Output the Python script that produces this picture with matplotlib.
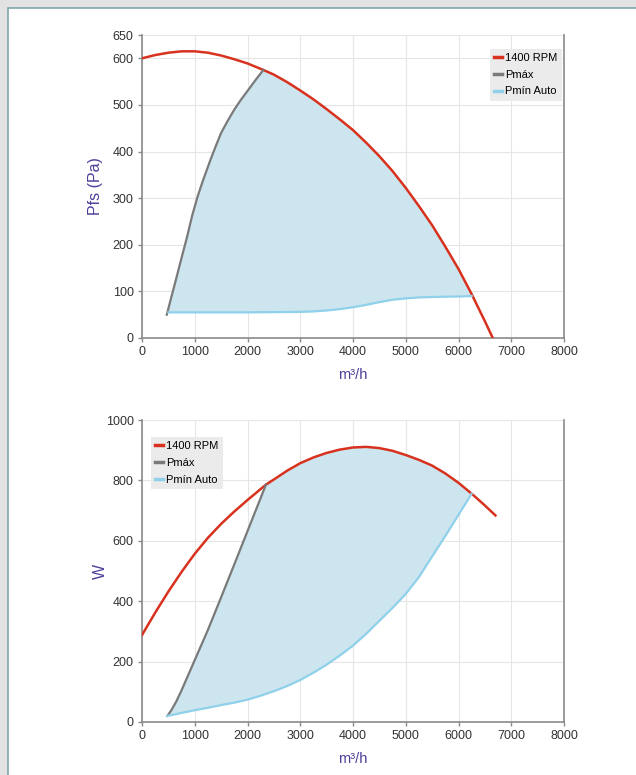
import numpy as np
import matplotlib
matplotlib.use("Agg")
import matplotlib.pyplot as plt
from matplotlib.patches import Rectangle

plt.rcParams['font.family'] = ['Liberation Sans', 'DejaVu Sans']

# Pressure chart (Pfs, Pa)
p_rpm_x = [0, 250, 500, 750, 1000, 1250, 1500, 1750, 2000, 2300, 2500, 2750, 3000, 3250, 3500, 3750,
           4000, 4250, 4500, 4750, 5000, 5250, 5500, 5750, 6000, 6250, 6500, 6650]
p_rpm_y = [600, 607, 612, 615, 615, 612, 606, 598, 589, 575, 565, 549, 531, 512, 491, 469,
           446, 419, 390, 358, 322, 283, 242, 196, 148, 94, 36, 0]
p_max_x = [470, 550, 650, 750, 850, 950, 1050, 1150, 1300, 1400, 1500, 1625, 1750, 1875, 2000, 2150, 2300]
p_max_y = [50, 85, 128, 172, 215, 262, 302, 336, 383, 412, 440, 466, 490, 511, 530, 553, 575]
p_min_x = [500, 1000, 2000, 3000, 3250, 3500, 3750, 4000, 4250, 4500, 4750, 5000, 5250, 5500, 6000, 6250]
p_min_y = [55, 55, 55, 56, 57, 59, 62, 66, 71, 77, 82, 85, 87, 88, 89, 90]

# Power chart (W)
w_rpm_x = [0, 250, 500, 750, 1000, 1250, 1500, 1750, 2000, 2350, 2500, 2750, 3000, 3250, 3500, 3750,
           4000, 4250, 4500, 4750, 5000, 5250, 5500, 5750, 6000, 6250, 6500, 6700]
w_rpm_y = [288, 362, 432, 497, 557, 610, 656, 697, 735, 786, 803, 832, 857, 876, 891, 902,
           909, 911, 907, 898, 884, 868, 849, 823, 792, 756, 717, 684]
w_max_x = [480, 560, 650, 750, 850, 1000, 1250, 1500, 1750, 2000, 2350]
w_max_y = [20, 40, 68, 105, 145, 205, 305, 413, 522, 632, 786]
w_min_x = [480, 750, 1000, 1250, 1500, 1750, 2000, 2250, 2500, 2750, 3000, 3250, 3500, 3750,
           4000, 4250, 4500, 4750, 5000, 5250, 5500, 5750, 6000, 6250]
w_min_y = [20, 30, 39, 47, 56, 64, 74, 87, 102, 119, 139, 163, 190, 220,
           253, 292, 335, 378, 424, 480, 548, 616, 686, 756]

labels = ['1400 RPM', 'Pmáx', 'Pmín Auto']
red = '#d8321f'
grey = '#7a7a7a'
blue = '#8fd0ea'
fill_col = '#cde5ee'
purple = '#4b3f9a'

fig = plt.figure(figsize=(6.36, 7.75), dpi=100)
fig.patch.set_facecolor('#e2e2e2')
fig.patches.append(Rectangle((8 / 636, -0.01), 1.0, (775 - 8) / 775 + 0.01, transform=fig.transFigure,
                             facecolor='white', edgecolor='#7fa9a8', linewidth=1.2, zorder=-10))


def draw(ax, rx, ry, mx, my, nx, ny, ymax, yticks, ylabel, ylab_x, legend_loc, legend_anchor):
    ax.set_facecolor('none')
    # shaded working area: Pmax up, along the curve, back along Pmin
    x_end = nx[-1]
    cx = [x for x in rx if mx[-1] < x <= x_end]
    cy = [y for x, y in zip(rx, ry) if mx[-1] < x <= x_end]
    px = list(mx) + cx + list(nx[::-1])
    py = list(my) + cy + list(ny[::-1])
    ax.fill(px, py, color=fill_col, lw=0, zorder=1)
    ax.plot(rx, ry, color=red, lw=1.8, label=labels[0], zorder=3)
    ax.plot(mx, my, color=grey, lw=1.6, label=labels[1], zorder=3)
    ax.plot(nx, ny, color=blue, lw=1.6, label=labels[2], zorder=3)

    ax.set_xlim(0, 8000)
    ax.set_ylim(0, ymax)
    ax.set_xticks(range(0, 8001, 1000))
    ax.set_yticks(yticks)
    ax.grid(True, color='#e6e6e6', lw=0.8, zorder=0)
    ax.set_axisbelow(True)
    for s in ['left', 'bottom', 'right']:
        ax.spines[s].set_color('#8a8a8a')
        ax.spines[s].set_linewidth(1.2)
    ax.spines['top'].set_visible(False)
    ax.tick_params(axis='both', direction='out', length=3, width=1, color='#8a8a8a',
                   labelsize=9, labelcolor='#333333', pad=3)
    ax.set_xlabel('m³/h', color=purple, fontsize=10.5, labelpad=7)
    ax.set_ylabel(ylabel, color=purple, fontsize=11.5)
    ax.yaxis.set_label_coords(ylab_x, 0.5)
    leg = ax.legend(loc=legend_loc, bbox_to_anchor=legend_anchor, fontsize=8, frameon=True,
                    handlelength=0.7, handletextpad=0.3, borderpad=0.4, labelspacing=0.6,
                    fancybox=False, borderaxespad=0)
    leg.get_frame().set_facecolor('#ebebeb')
    leg.get_frame().set_edgecolor('none')
    leg.get_frame().set_alpha(1)
    for line in leg.get_lines():
        line.set_linewidth(2.5)


ax1 = fig.add_axes([142 / 636, (775 - 338) / 775, 422 / 636, 303 / 775])
draw(ax1, p_rpm_x, p_rpm_y, p_max_x, p_max_y, p_min_x, p_min_y, 650,
     [0, 100, 200, 300, 400, 500, 600, 650], 'Pfs (Pa)', -0.092, 'upper right', (0.995, 0.955))

ax2 = fig.add_axes([142 / 636, (775 - 722) / 775, 422 / 636, 302 / 775])
draw(ax2, w_rpm_x, w_rpm_y, w_max_x, w_max_y, w_min_x, w_min_y, 1000,
     [0, 200, 400, 600, 800, 1000], 'W', -0.08, 'upper left', (0.021, 0.944))

fig.savefig('out.png', dpi=100, facecolor=fig.get_facecolor())
